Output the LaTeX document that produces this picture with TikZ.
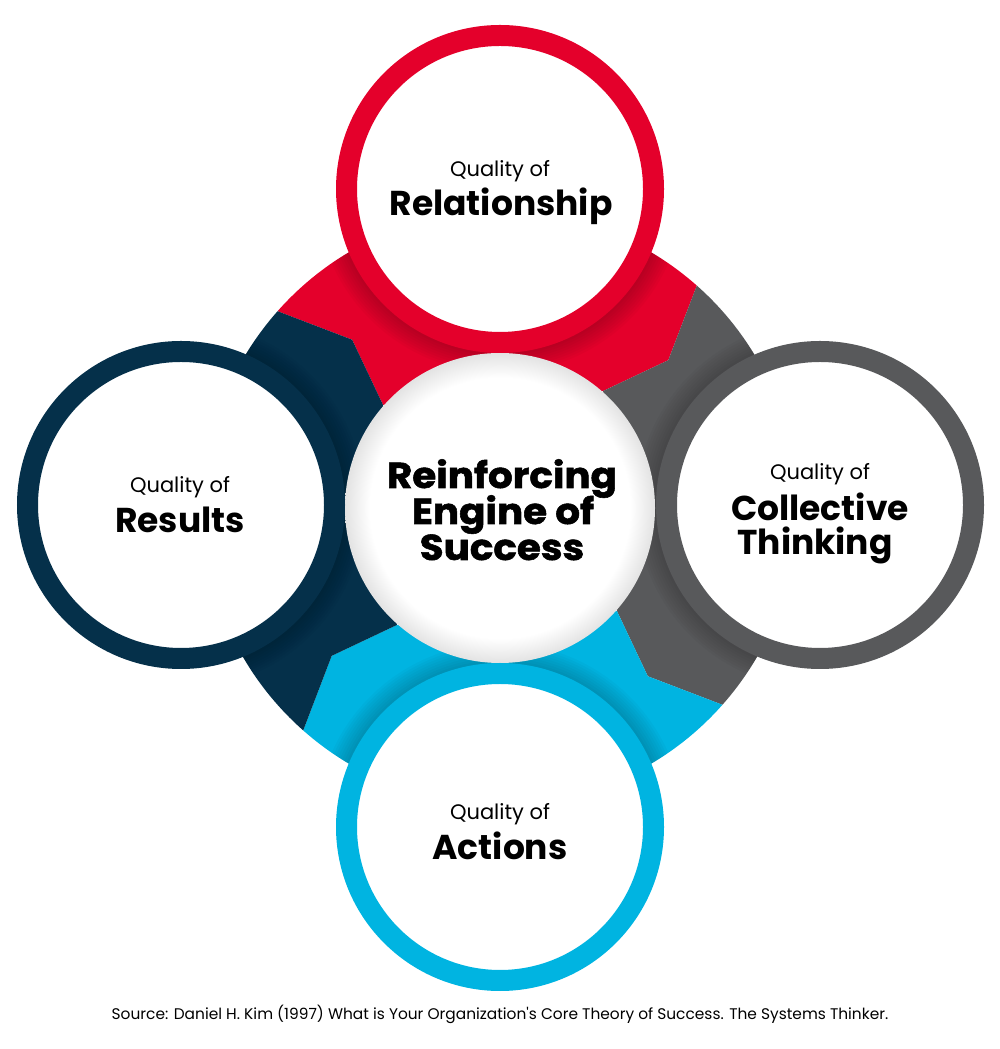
\documentclass[tikz,border=0pt]{standalone}
\usepackage{fontspec}
\setmainfont{Poppins}
\newfontfamily\heavyfont[FakeStretch=1.08,BoldFeatures={FakeBold=1.5}]{Poppins}
\definecolor{cred}{HTML}{E4002B}
\definecolor{cnavy}{HTML}{05304A}
\definecolor{cgray}{HTML}{58595B}
\definecolor{cblue}{HTML}{00B4E1}
\pgfdeclareradialshading{centershade}{\pgfpoint{0bp}{0bp}}{color(0bp)=(white); color(21bp)=(white); color(25bp)=(black!11); color(50bp)=(black!11)}
\begin{document}
\begin{tikzpicture}[x=1pt,y=1pt,
  outerring/.style={circle, draw=#1, line width=21pt, fill=white, minimum size=307pt, inner sep=0pt},
  small/.style={font=\fontsize{21}{21}\selectfont, anchor=base},
  big/.style={font=\fontsize{34.5}{34.5}\selectfont\bfseries, anchor=base},
  huge/.style={font=\fontsize{36}{36}\selectfont\heavyfont\bfseries, anchor=base}]
\useasboundingbox (0,0) rectangle (1000,1049);
\coordinate (C) at (500,541);
% ring segments
\begin{scope}[shift={(C)}]
\foreach \p/\col in {90/cred, 0/cgray, -90/cblue, 180/cnavy}{
  \fill[\col] (\p-41.4:156) -- (\p-48.7:224) -- (\p-41.5:297)
     arc[start angle=\p-41.5, end angle=\p+48.5, radius=297]
     -- (\p+41.3:224) -- (\p+48.6:156) -- cycle;
}
% shadows of outer circles onto the ring
\begin{scope}
\clip (0,0) circle (297);
\foreach \cx/\cy in {0/319, 0/-319, -319/3, 320/3}{
  \foreach \i in {1,...,8}{
    \fill[black, opacity=0.025] (\cx,\cy) circle ({164+2.5*\i});
  }
}
\end{scope}
\end{scope}
% central circle
\node[circle, minimum size=310pt, inner sep=0pt, shade, shading=centershade] (engine) at (C) {};
% outer circles
\node[outerring=cred] (rel) at (500,860) {};
\node[outerring=cnavy] (res) at (181,544) {};
\node[outerring=cgray] (col) at (820,544) {};
\node[outerring=cblue] (act) at (500,222) {};
% texts
\node[small] (relq) at (500,872) {Quality of};
\node[big] (relt) at (501,833) {Relationship};
\node[small] (resq) at (180,556) {Quality of};
\node[big] (rest) at (180,516) {Results};
\node[small] (colq) at (820,569) {Quality of};
\node[big] (colt1) at (820,528) {Collective};
\node[big] (colt2) at (815,494) {Thinking};
\node[small] (actq) at (500,229) {Quality of};
\node[big] (actt) at (500,189) {Actions};
\node[huge] (eng1) at (502,561) {Reinforcing};
\node[huge] (eng2) at (503,525) {Engine of};
\node[huge] (eng3) at (502,489) {Success};
\node[font=\fontsize{15.4}{15.4}\selectfont, anchor=base] (src) at (500,29) {Source: Daniel H. Kim (1997) What is Your Organization\textquotesingle s Core Theory of Success. The Systems Thinker.};
\end{tikzpicture}
\end{document}
